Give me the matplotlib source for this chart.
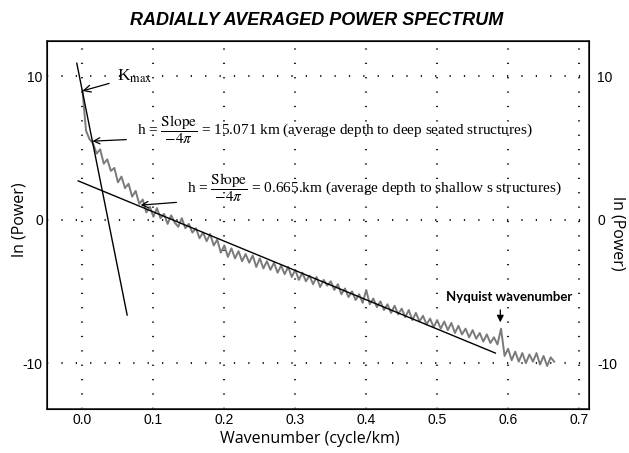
import matplotlib.pyplot as plt
import numpy as np

plt.rcParams['mathtext.fontset'] = 'stix'
plt.rcParams['axes.unicode_minus'] = False

# radially averaged power spectrum
wavenumber = np.arange(0, 0.6651, 0.005)
ln_power = [9.0, 6.2, 5.6, 5.3, 4.6, 4.9, 3.9, 4.2, 3.4, 3.6,
            2.6, 3.0, 2.2, 2.5, 1.6, 2.0, 1.1, 1.4, 0.5, 0.9,
            0.2, 0.8, 0.1, 0.4, -0.3, 0.3, -0.2, -0.5, 0.1, -0.6,
            -0.3, -0.9, -0.6, -1.3, -0.9, -1.5, -1.0, -1.8, -1.4, -2.3,
            -1.8, -2.6, -2.0, -2.7, -2.2, -2.9, -2.4, -3.0, -2.5, -3.3,
            -2.7, -3.4, -2.9, -3.5, -3.0, -3.7, -3.2, -3.8, -3.3, -4.0,
            -3.5, -4.2, -3.7, -4.3, -3.9, -4.5, -4.0, -4.7, -4.2, -4.6,
            -4.3, -4.9, -4.5, -5.2, -4.8, -5.4, -5.0, -5.6, -5.2, -5.8,
            -4.9, -5.9, -5.5, -6.1, -5.7, -6.3, -5.9, -6.5, -6.0, -6.6,
            -6.2, -6.8, -6.3, -7.0, -6.5, -7.1, -6.7, -7.3, -6.9, -7.5,
            -7.0, -7.6, -7.1, -7.7, -7.2, -7.9, -7.4, -8.0, -7.6, -8.2,
            -7.7, -8.3, -7.9, -8.5, -8.0, -8.6, -8.2, -8.7, -7.6, -9.5,
            -9.0, -9.8, -9.2, -9.9, -9.3, -10.0, -9.4, -9.9, -9.3, -10.1,
            -9.5, -10.2, -9.6, -9.9]

# fitted straight segments
deep_x = [-0.008, 0.063]
deep_y = [10.9, -6.65]
shallow_x = [-0.006, 0.582]
shallow_y = [2.7, -9.3]

xticks = [0.0, 0.1, 0.2, 0.3, 0.4, 0.5, 0.6, 0.7]
yticks = [-10, 0, 10]

fig = plt.figure(figsize=(6.29, 4.53), dpi=100)
ax = fig.add_axes([0.0747, 0.0971, 0.8617, 0.8124])

for xv in xticks:
    ax.plot([xv, xv], [-13.2, 12.45], color='#222222', lw=1.5,
            linestyle=(0, (0.6, 6.3)), zorder=1)
for yv in yticks:
    ax.plot([-0.05, 0.714], [yv, yv], color='#222222', lw=1.5,
            linestyle=(0, (0.6, 6.3)), zorder=1)

ax.plot(wavenumber, ln_power, color='#7a7a7a', lw=1.4, zorder=2)
ax.plot(deep_x, deep_y, color='black', lw=1.0, zorder=3)
ax.plot(shallow_x, shallow_y, color='black', lw=1.0, zorder=3)

ax.set_xlim(-0.05, 0.714)
ax.set_ylim(-13.2, 12.45)
ax.set_xticks(xticks)
ax.set_xticklabels(['%.1f' % v for v in xticks])
ax.set_yticks(yticks)
ax.tick_params(length=0, labelsize=10, pad=3)
for lab in ax.get_xticklabels() + ax.get_yticklabels():
    lab.set_fontfamily('Liberation Sans')
for s in ax.spines.values():
    s.set_linewidth(1.3)
    s.set_color('#333333')

ax2 = ax.twinx()
ax2.set_ylim(-13.2, 12.45)
ax2.set_yticks(yticks)
ax2.tick_params(length=0, labelsize=10, pad=6)
for lab in ax2.get_yticklabels():
    lab.set_fontfamily('Liberation Sans')

fig.text(0.492, 0.030, 'Wavenumber (cycle/km)', ha='center', va='center',
         fontsize=11.5, fontfamily='Open Sans')
fig.text(0.031, 0.515, 'ln (Power)', ha='center', va='center', rotation=90,
         fontsize=11.5, fontfamily='Open Sans')
fig.text(0.982, 0.486, 'ln (Power)', ha='center', va='center', rotation=270,
         fontsize=11.5, fontfamily='Open Sans')

fig.text(0.503, 0.955, 'RADIALLY AVERAGED POWER SPECTRUM', ha='center', va='center',
         fontsize=13, fontweight='bold', fontstyle='italic', fontfamily='Liberation Sans')

serif = 'Liberation Serif'
ax.annotate('K$_{\\mathrm{max}}$', xy=(0.0, 8.97), xytext=(0.049, 10.0),
            fontsize=12.5, fontfamily=serif, va='center', ha='left',
            arrowprops=dict(arrowstyle='->', color='black', lw=0.9, shrinkA=4, shrinkB=0))
ax.annotate('h = $\\dfrac{\\mathrm{Slope}}{-4\\pi}$ = 15.071 km (average depth to deep seated structures)',
            xy=(0.014, 5.47), xytext=(0.0775, 6.24),
            fontsize=11, fontfamily=serif, va='center', ha='left',
            arrowprops=dict(arrowstyle='->', color='black', lw=0.9, shrinkA=6, shrinkB=0))
ax.annotate('h = $\\dfrac{\\mathrm{Slope}}{-4\\pi}$ = 0.665.km (average depth to shallow s structures)',
            xy=(0.082, 1.01), xytext=(0.148, 2.26),
            fontsize=11, fontfamily=serif, va='center', ha='left',
            arrowprops=dict(arrowstyle='->', color='black', lw=0.9, shrinkA=6, shrinkB=0))
ax.annotate('', xy=(0.589, -7.35), xytext=(0.589, -6.1),
            arrowprops=dict(arrowstyle='-|>', color='black', lw=0.9, mutation_scale=10))
ax.text(0.601, -5.4, 'Nyquist wavenumber', ha='center', va='center',
        fontsize=9.5, fontweight='bold', fontfamily='Lato')

fig.savefig('out.png', dpi=100)
